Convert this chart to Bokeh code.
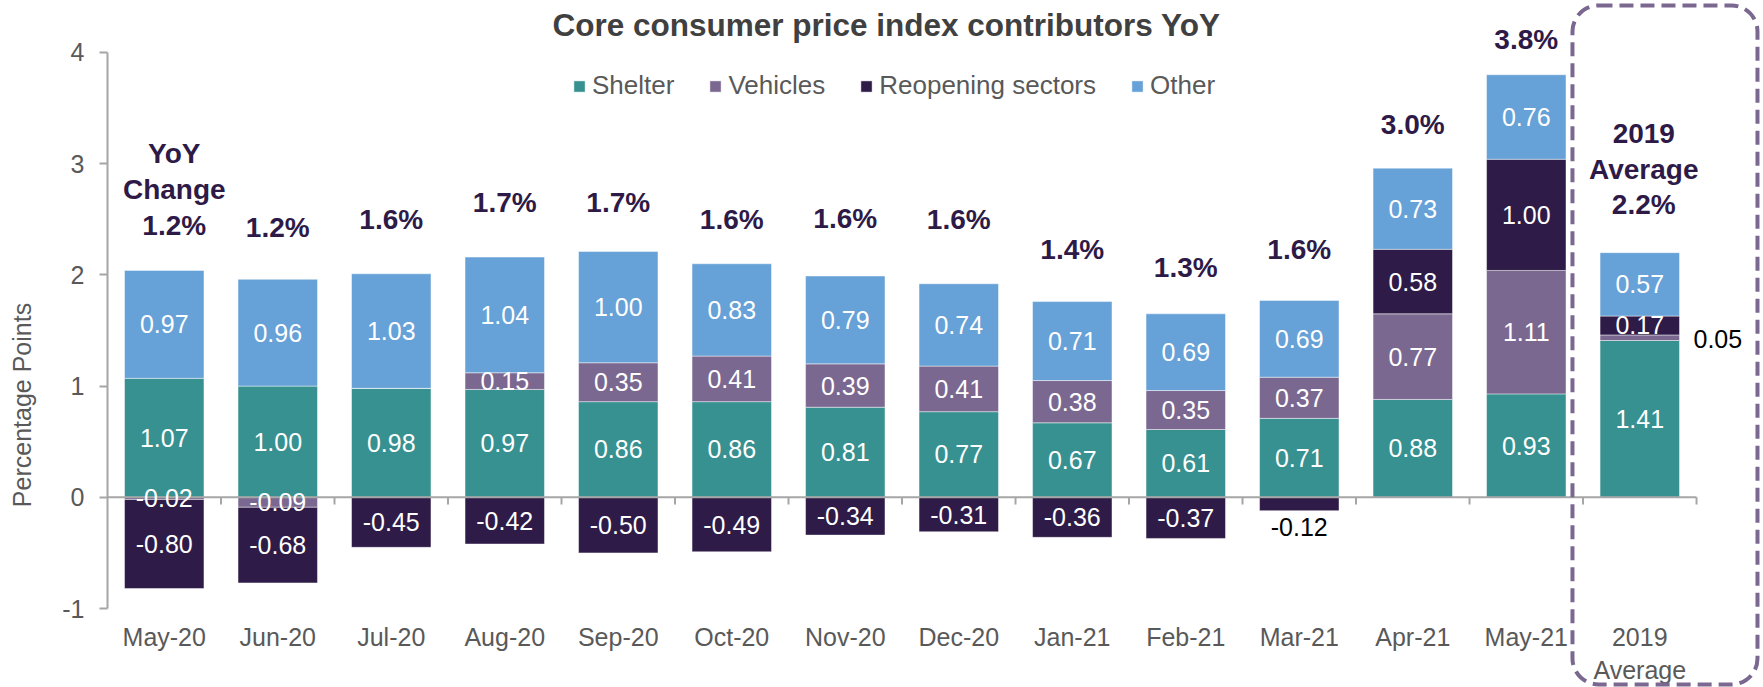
import math
import numpy as np
from bokeh.plotting import figure
from bokeh.core.properties import value
from bokeh.models import (ColumnDataSource, Range1d, LabelSet, Label,
                          Legend, LegendItem, BoxAnnotation, FixedTicker)
from bokeh.embed import file_html
from bokeh.resources import INLINE

# ---------------- data ----------------
categories = ["May-20", "Jun-20", "Jul-20", "Aug-20", "Sep-20", "Oct-20", "Nov-20",
              "Dec-20", "Jan-21", "Feb-21", "Mar-21", "Apr-21", "May-21", "2019\nAverage"]
shelter = [1.07, 1.00, 0.98, 0.97, 0.86, 0.86, 0.81, 0.77, 0.67, 0.61, 0.71, 0.88, 0.93, 1.41]
vehicles = [-0.02, -0.09, 0.00, 0.15, 0.35, 0.41, 0.39, 0.41, 0.38, 0.35, 0.37, 0.77, 1.11, 0.05]
reopening = [-0.80, -0.68, -0.45, -0.42, -0.50, -0.49, -0.34, -0.31, -0.36, -0.37, -0.12, 0.58, 1.00, 0.17]
other = [0.97, 0.96, 1.03, 1.04, 1.00, 0.83, 0.79, 0.74, 0.71, 0.69, 0.69, 0.73, 0.76, 0.57]
yoy_change = [1.2, 1.2, 1.6, 1.7, 1.7, 1.6, 1.6, 1.6, 1.4, 1.3, 1.6, 3.0, 3.8, 2.2]
y_ticks = [-1, 0, 1, 2, 3, 4]

# ---------------- layout / style (not data) ----------------
yoy_gap = [0.40, 0.47, 0.49, 0.49, 0.44, 0.40, 0.52, 0.58, 0.47, 0.42, 0.46, 0.39, 0.32, 0.43]
yoy_xoff = [10, 0, 0, 0, 0, 0, 0, 0, 0, 0, 0, 0, 0, 4]
colors = {"Shelter": "#379191", "Vehicles": "#7B6891",
          "Reopening sectors": "#2E1B47", "Other": "#66A1D7"}
FONT = "Liberation Sans"
GREY_TXT = "#595959"
AXIS_GREY = "#A6A6A6"
PURPLE_TXT = "#2E1A47"

n = len(categories)
xc = np.arange(n) + 0.5          # category centres (one unit per category)

W, H = 1763, 687
p = figure(width=W, height=H,
           x_range=Range1d(-0.9427, 14.590), y_range=Range1d(-1.7104, 4.4676),
           output_backend="svg", toolbar_location=None, min_border=0)
p.min_border_left = p.min_border_right = p.min_border_top = p.min_border_bottom = 0
p.xgrid.grid_line_color = None
p.ygrid.grid_line_color = None
p.outline_line_color = None
p.background_fill_color = "white"

series = [("Shelter", shelter), ("Vehicles", vehicles),
          ("Reopening sectors", reopening), ("Other", other)]

pos = np.zeros(n)
neg = np.zeros(n)
legend_items = []
outside = {("Reopening sectors", 10): "below", ("Vehicles", 13): "right"}
for name, vals in series:
    v = np.array(vals, dtype=float)
    bottom = np.where(v >= 0, pos, neg)
    top = bottom + v
    pos = np.where(v >= 0, top, pos)
    neg = np.where(v < 0, top, neg)
    src = ColumnDataSource(dict(x=xc, bottom=bottom, top=top))
    r = p.vbar(x="x", bottom="bottom", top="top", width=0.7, source=src,
               fill_color=colors[name], line_color="white", line_alpha=0.45, line_width=1)
    legend_items.append(LegendItem(label=name, renderers=[r]))
    lx, ly, lt = [], [], []
    for i in range(n):
        if abs(v[i]) < 1e-9:
            continue
        txt = f"{v[i]:.2f}"
        key = (name, i)
        if key in outside:
            if outside[key] == "below":
                p.add_layout(Label(x=xc[i], y=min(bottom[i], top[i]) - 0.15, text=txt,
                                   text_align="center", text_baseline="middle",
                                   text_font=FONT, text_font_size="25px", text_color="black"))
            else:
                p.add_layout(Label(x=xc[i] + 0.35, x_offset=14, y=(bottom[i] + top[i]) / 2 - 0.01,
                                   text=txt, text_align="left", text_baseline="middle",
                                   text_font=FONT, text_font_size="25px", text_color="black"))
            continue
        lx.append(xc[i]); ly.append((bottom[i] + top[i]) / 2); lt.append(txt)
    lsrc = ColumnDataSource(dict(x=lx, y=ly, t=lt))
    p.add_layout(LabelSet(x="x", y="y", text="t", source=lsrc, text_align="center",
                          text_baseline="middle", text_font=value(FONT),
                          text_font_size=value("25px"), text_color="white"))

# YoY totals
tops = pos
yoy_y = tops + np.array(yoy_gap)
ysrc = ColumnDataSource(dict(x=xc, y=yoy_y, t=[f"{v:.1f}%" for v in yoy_change], xo=yoy_xoff))
p.add_layout(LabelSet(x="x", y="y", text="t", x_offset="xo", source=ysrc, text_align="center",
                      text_baseline="middle", text_font=value(FONT), text_font_size=value("28px"),
                      text_font_style="bold", text_color=PURPLE_TXT))
for txt, k in [("Change", 1), ("YoY", 2)]:
    p.add_layout(Label(x=xc[0], x_offset=10, y=yoy_y[0] + 0.324 * k, text=txt, text_align="center",
                       text_baseline="middle", text_font=FONT, text_font_size="28px",
                       text_font_style="bold", text_color=PURPLE_TXT))
for txt, k in [("Average", 1), ("2019", 2)]:
    p.add_layout(Label(x=xc[-1], x_offset=4, y=yoy_y[-1] + 0.32 * k, text=txt, text_align="center",
                       text_baseline="middle", text_font=FONT, text_font_size="28px",
                       text_font_style="bold", text_color=PURPLE_TXT))

# zero line and category separators
p.segment(x0=[0], y0=[0], x1=[n], y1=[0], line_color=AXIS_GREY, line_width=2)
p.segment(x0=list(range(1, n + 1)), y0=[0] * n, x1=list(range(1, n + 1)), y1=[-0.065] * n,
          line_color=AXIS_GREY, line_width=2)

# y axis (fixed at the left edge of the first category)
p.yaxis.fixed_location = 0
p.yaxis.bounds = (y_ticks[0], y_ticks[-1])
p.yaxis.ticker = FixedTicker(ticks=y_ticks)
p.yaxis.major_label_overrides = {t: str(t) for t in y_ticks}
p.yaxis.axis_line_color = AXIS_GREY
p.yaxis.axis_line_width = 2
p.yaxis.major_tick_line_color = AXIS_GREY
p.yaxis.major_tick_line_width = 2
p.yaxis.major_tick_out = 8
p.yaxis.major_tick_in = 0
p.yaxis.minor_tick_line_color = None
p.yaxis.major_label_standoff = 15
p.yaxis.major_label_text_font = FONT
p.yaxis.major_label_text_font_size = "25px"
p.yaxis.major_label_text_color = GREY_TXT

# x axis (category labels under the -1 line)
p.xaxis.fixed_location = y_ticks[0]
p.xaxis.ticker = FixedTicker(ticks=list(xc))
p.xaxis.major_label_overrides = {float(x): c for x, c in zip(xc, categories)}
p.xaxis.axis_line_color = None
p.xaxis.major_tick_line_color = None
p.xaxis.minor_tick_line_color = None
p.xaxis.major_tick_out = 0
p.xaxis.major_tick_in = 0
p.xaxis.major_label_standoff = 14
p.xaxis.major_label_text_font = FONT
p.xaxis.major_label_text_font_size = "25px"
p.xaxis.major_label_text_color = GREY_TXT

# y axis title
p.add_layout(Label(x=-0.749, y=0.83, text="Percentage Points", angle=math.pi / 2,
                   text_align="center", text_baseline="middle", text_font=FONT,
                   text_font_size="25px", text_color=GREY_TXT))

# chart title
p.add_layout(Label(x=6.863, y=4.243, text="Core consumer price index contributors YoY",
                   text_align="center", text_baseline="middle", text_font=FONT,
                   text_font_size="31.5px", text_font_style="bold", text_color="#404040"))

# legend
legend = Legend(items=legend_items, orientation="horizontal", location=(572, 586),
                glyph_width=14, glyph_height=14, label_standoff=6, spacing=34,
                padding=0, margin=0, border_line_color=None, background_fill_alpha=0,
                label_text_font=FONT, label_text_font_size="26px", label_text_color=GREY_TXT)
p.add_layout(legend)

# dashed highlight box around 2019 average
p.add_layout(BoxAnnotation(left=12.907, right=14.537, top=4.423, bottom=-1.683,
                           fill_alpha=0, line_color="#7B6891", line_alpha=1, line_width=4,
                           line_dash="14 7", border_radius=26, level="overlay"))

open("out.html", "w").write(file_html(p, INLINE))
